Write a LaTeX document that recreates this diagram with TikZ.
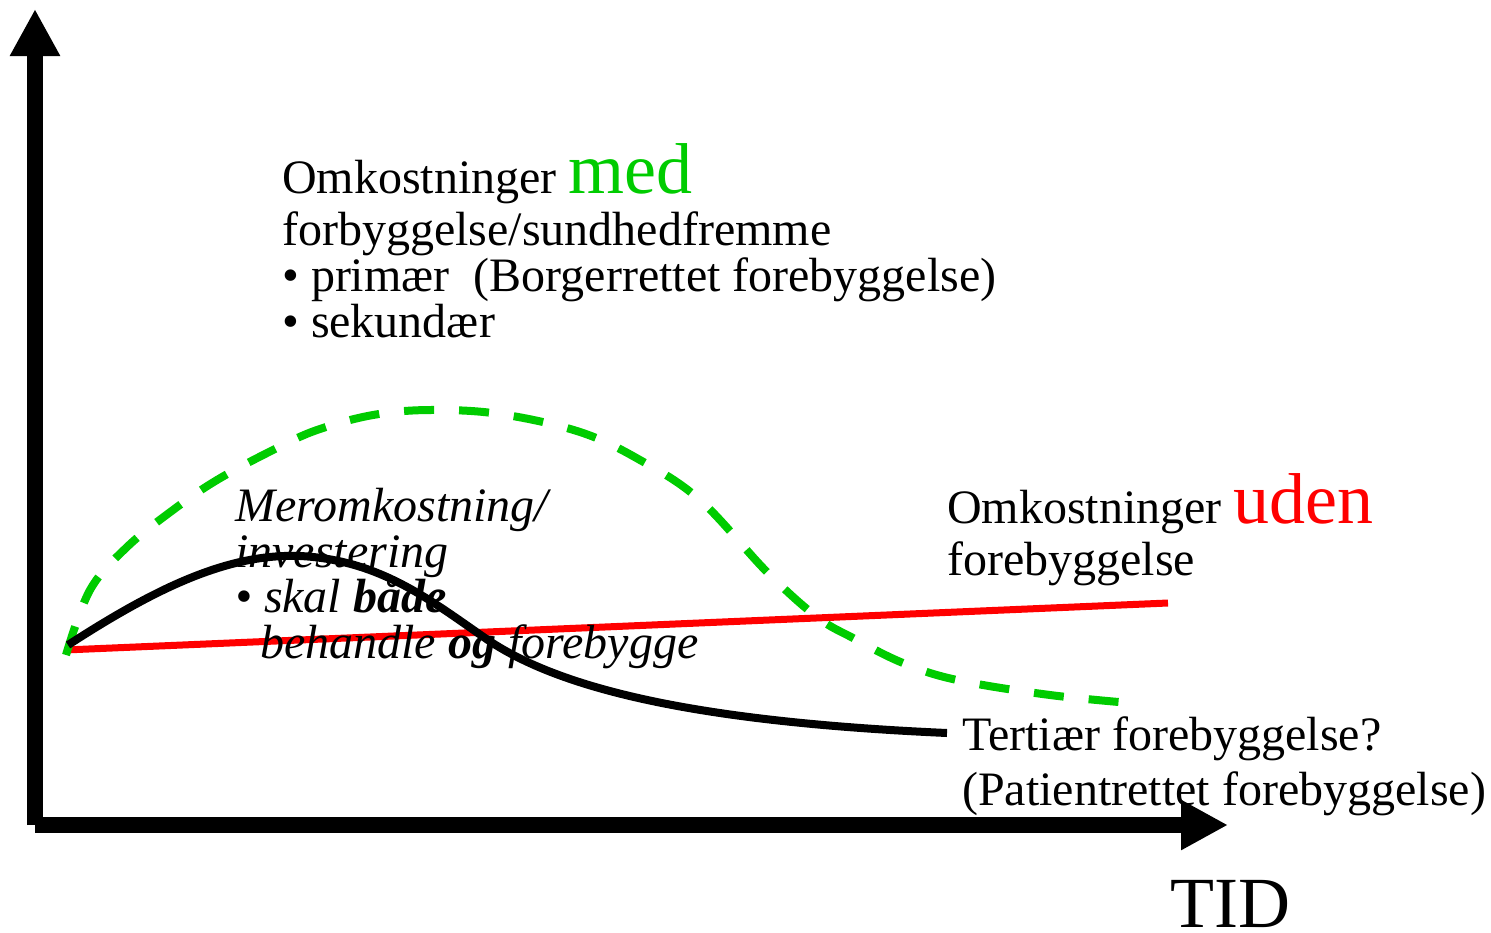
\documentclass[tikz,border=0pt]{standalone}
\usepackage{fontspec}
\setmainfont{Liberation Serif}
\usepackage{xcolor}
\usetikzlibrary{arrows.meta}
\definecolor{medgreen}{RGB}{0,204,0}
\definecolor{udenred}{RGB}{255,0,0}
\tikzstyle{myaxis} = [line width=16pt, -{Triangle[length=47pt,width=47pt]}]
\tikzstyle{mycurve} = [line width=8pt, line join=round]
\tikzstyle{mytext} = [anchor=base west, inner sep=0pt, align=left,
    font=\fontsize{48}{46}\selectfont]
\newcommand{\bigword}[2]{{\color{#1}\fontsize{72}{72}\selectfont #2}}

\begin{document}
\begin{tikzpicture}[x=1pt,y=-1pt]
\useasboundingbox (0,0) rectangle (1491,932);
% akser
\coordinate (origo) at (35,825);
\coordinate (ytop) at (35,9);
\coordinate (xend) at (1228,825);
\draw[myaxis] (origo) -- (ytop);
\draw[myaxis] (origo) -- (xend);
% uden forebyggelse
\coordinate (r0) at (65,650);
\coordinate (r1) at (1168,603);
\draw[mycurve, line width=7pt, udenred] (r0) -- (r1);
% med forebyggelse
\draw[mycurve, medgreen, dash pattern=on 30pt off 25pt] plot[smooth, tension=0.6] coordinates {
    (66,655) (90,590) (127,547) (173,510) (217,480) (273,450) (317,430)
    (373,415) (430,410) (500,414) (580,432) (640,460) (700,500) (767,572)
    (817,617) (853,638) (903,663) (957,680) (1050,695) (1142,704)};
% tertiaer
\coordinate (b0) at (68,645);
\coordinate (btop) at (300,556);
\coordinate (bmid) at (485,638);
\coordinate (b1) at (947,733);
\draw[mycurve, black] (b0) .. controls (150,592) and (225,553) .. (btop)
    .. controls (380,560) and (430,600) .. (bmid)
    .. controls (560,690) and (700,722) .. (b1);
% tekster (base = sidste linje)
\node[mytext] (medtxt) at (282,337) {Omkostninger \bigword{medgreen}{med}\\[6pt]
    forbyggelse/sundhedfremme\\
    • primær\ \ (Borgerrettet forebyggelse)\\
    • sekundær};
\node[mytext, font=\fontsize{48}{45.5}\selectfont\itshape] (meromtxt) at (235,658) {Meromkostning/\\
    investering\\
    • skal \textbf{både}\\
    \hspace*{25pt}behandle \textbf{og} forebygge};
\node[mytext] (udentxt) at (947,575) {Omkostninger \bigword{udenred}{uden}\\[6pt]
    forebyggelse};
\node[mytext] (terttxt) at (962,805) {Tertiær forebyggelse?\\[9pt]
    (Patientrettet forebyggelse)};
\node[mytext, font=\fontsize{72}{72}\selectfont] (tidtxt) at (1170,927) {TID};
\end{tikzpicture}
\end{document}
